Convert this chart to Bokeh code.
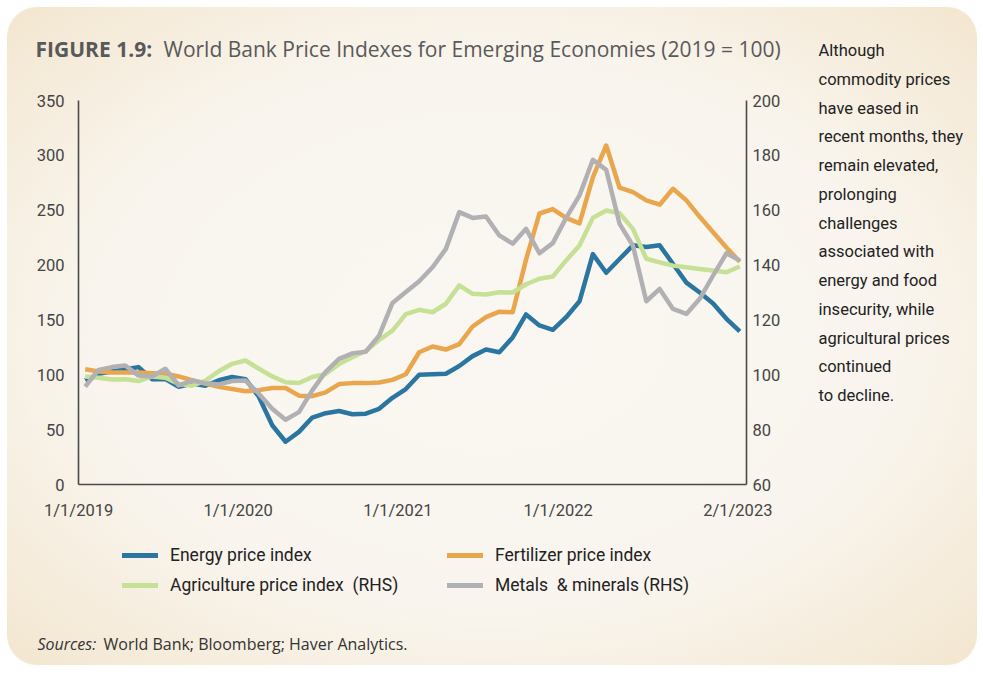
import math
import pandas as pd
from bokeh.plotting import figure
from bokeh.layouts import row, column
from bokeh.models import Range1d, LinearAxis, FixedTicker, Label, Legend, LegendItem, ColumnDataSource
from bokeh.embed import file_html
from bokeh.resources import INLINE

# ---------------- data ----------------
months = pd.date_range("2019-01-01", "2023-02-01", freq="MS").strftime("%Y-%m").tolist()

energy = [95, 101, 103, 105, 107, 96, 96, 89, 92, 90,
          95, 98, 96, 80, 54, 39, 48, 61, 65, 67,
          64, 64.5, 69, 79, 87, 100, 100.5, 101, 108, 117,
          123, 120.5, 134, 155, 145, 141, 152.5, 167, 210, 193,
          205.5, 218, 216.5, 218, 201, 184, 175, 165, 151, 139.5]

fertilizer = [105, 103, 102, 102, 102, 101.5, 101, 98.5, 95, 92,
              89, 87, 85, 86, 88, 88, 81, 80.5, 84, 91.5,
              92.4, 92.4, 93, 95.4, 100.5, 120.5, 125.8, 123, 128, 144,
              152.5, 157.5, 157, 205, 247, 251, 243, 238, 280, 309,
              270.5, 266.5, 259, 255, 269.5, 259, 244, 230, 216, 203]

agriculture = [99.4, 98.9, 98.3, 98.4, 97.7, 99.4, 98.9, 96.7, 96, 97.9,
               101.3, 104, 105.2, 102.2, 99.4, 97.3, 97, 99.2, 100.3, 103.9,
               106.4, 108.7, 112.7, 116.1, 122.1, 123.7, 122.8, 125.9, 132.6, 129.5,
               129.3, 130.1, 130, 133, 135, 135.8, 141.7, 147.1, 157.2, 159.9,
               158.9, 153.2, 142.3, 141, 139.8, 139.2, 138.6, 138, 137.4, 139.5]

metals = [95.7, 101.8, 102.8, 103.4, 99.7, 99.4, 102.2, 96.1, 97.9, 96.9,
          96.5, 97.7, 97.9, 93.1, 87.6, 83.6, 86.4, 94.3, 101.1, 105.8,
          107.8, 108.4, 114.3, 126.2, 130.2, 134.1, 139.2, 145.9, 159.3, 157.2,
          157.7, 150.8, 147.8, 153.2, 144.3, 148, 157.2, 165.4, 178.4, 174.7,
          155, 147.1, 126.8, 131.3, 124, 122.2, 127.7, 136.2, 144.3, 141.7]

left_ticks = [0, 50, 100, 150, 200, 250, 300, 350]
right_ticks = [60, 80, 100, 120, 140, 160, 180, 200]
x_tick_labels = ["1/1/2019", "1/1/2020", "1/1/2021", "1/1/2022", "2/1/2023"]
x_tick_pos = [-0.49, 11.45, 23.4, 35.4, 48.85]

series_names = ["Energy price index", "Fertilizer price index",
                "Agriculture price index  (RHS)", "Metals  & minerals (RHS)"]

title_bold = "FIGURE 1.9:"
title_rest = "World Bank Price Indexes for Emerging Economies (2019 = 100)"
sources_lead = "Sources:"
sources_rest = "World Bank; Bloomberg; Haver Analytics."

side_text = ["Although", "commodity prices", "have eased in", "recent months, they",
             "remain elevated,", "prolonging", "challenges", "associated with",
             "energy and food", "insecurity, while", "agricultural prices",
             "continued", "to decline."]

# ---------------- styling ----------------
BLUE = "#2b76a1"
ORANGE = "#e9a64c"
GREEN = "#c6e095"
GRAY = "#b1b1b3"
AXIS = "#4a4a4a"
COND = "Roboto"
GEO = "Open Sans"
LW = 4.5

LEFT_W = 790          # left column width (panel x 7..797)
SIDE_W = 180          # side text column (797..977)
TITLE_H = 73          # 7..80
MAIN_H = 450          # 80..530
BOTTOM_H = 135        # 530..665


def blank_fig(w, h):
    f = figure(width=w, height=h, x_range=Range1d(0, w), y_range=Range1d(h, 0),
               x_axis_location=None, y_axis_location=None,
               output_backend="svg", toolbar_location=None,
               min_border=0, min_border_left=0, min_border_right=0,
               min_border_top=0, min_border_bottom=0)
    f.grid.visible = False
    f.outline_line_color = None
    f.background_fill_alpha = 0
    f.border_fill_alpha = 0
    return f


def lab(fig, text, x, y, font, size, color, style="normal"):
    fig.add_layout(Label(x=x, y=y, text=text, text_font=font, text_font_size=size,
                         text_color=color, text_font_style=style,
                         text_baseline="middle", text_align="left"))


# ---------------- title ----------------
title_fig = blank_fig(LEFT_W, TITLE_H)
lab(title_fig, title_bold, 28, 41, GEO, "21px", "#58595b", "bold")
lab(title_fig, title_rest, 156, 41, GEO, "21px", "#58595b")

# ---------------- main chart ----------------
src = ColumnDataSource(dict(x=list(range(len(months))), month=months,
                            energy=energy, fertilizer=fertilizer,
                            agriculture=agriculture, metals=metals))

p = figure(width=LEFT_W, height=MAIN_H, output_backend="svg", toolbar_location=None,
           x_range=Range1d(-0.5, len(months) - 0.5), y_range=Range1d(0, 350),
           min_border_left=71, min_border_top=20,
           min_border_right=LEFT_W - 71 - 668, min_border_bottom=MAIN_H - 20 - 384)
p.extra_y_ranges = {"rhs": Range1d(60, 200)}
p.background_fill_alpha = 0
p.border_fill_alpha = 0
p.outline_line_color = None
p.xgrid.visible = False
p.ygrid.visible = False

r_e = p.line("x", "energy", source=src, color=BLUE, line_width=LW, line_join="round")
r_f = p.line("x", "fertilizer", source=src, color=ORANGE, line_width=LW, line_join="round")
r_a = p.line("x", "agriculture", source=src, color=GREEN, line_width=LW, line_join="round", y_range_name="rhs")
r_m = p.line("x", "metals", source=src, color=GRAY, line_width=LW, line_join="round", y_range_name="rhs")

rax = LinearAxis(y_range_name="rhs")
p.add_layout(rax, "right")

for ax in [p.xaxis[0], p.yaxis[0], rax]:
    ax.axis_line_color = AXIS
    ax.axis_line_width = 1.6
    ax.major_tick_out = 0
    ax.major_tick_in = 0
    ax.minor_tick_out = 0
    ax.minor_tick_in = 0
    ax.major_label_text_font = COND
    ax.major_label_text_font_size = "16.5px"
    ax.major_label_text_color = "#444444"

p.yaxis[0].ticker = FixedTicker(ticks=left_ticks)
p.yaxis[0].major_label_standoff = 14
rax.ticker = FixedTicker(ticks=right_ticks)
rax.major_label_standoff = 6
p.xaxis[0].ticker = FixedTicker(ticks=x_tick_pos)
p.xaxis[0].major_label_overrides = {t: l for t, l in zip(x_tick_pos, x_tick_labels)}
p.xaxis[0].major_label_standoff = 16

# ---------------- legend + sources ----------------
bottom_fig = blank_fig(LEFT_W, BOTTOM_H)
colors = [BLUE, ORANGE, GREEN, GRAY]
# legend proxies: NaN data so nothing is drawn on the canvas itself
swatches = [bottom_fig.line(x=[math.nan], y=[math.nan], color=c, line_width=5, line_cap="round")
            for c in colors]


def make_legend(idx, vx):
    return Legend(items=[LegendItem(label=series_names[i], renderers=[swatches[i]]) for i in idx],
                  location=(vx, 68), orientation="vertical",
                  padding=0, spacing=6, glyph_width=36, glyph_height=24,
                  label_height=24, label_standoff=12,
                  label_text_font=COND, label_text_font_size="17.5px",
                  label_text_color="#222222",
                  background_fill_alpha=0, border_line_alpha=0)


bottom_fig.add_layout(make_legend([0, 2], 115))
bottom_fig.add_layout(make_legend([1, 3], 440))

lab(bottom_fig, sources_lead, 30, 113, GEO, "16px", "#333333", "italic")
lab(bottom_fig, sources_rest, 96, 113, GEO, "16px", "#333333")

# ---------------- side text ----------------
side_fig = blank_fig(SIDE_W, TITLE_H + MAIN_H + BOTTOM_H)
for i, t in enumerate(side_text):
    lab(side_fig, t, 21, 43 + i * 28.75, COND, "16.5px", "#222222")

root = row(column(title_fig, column(p), bottom_fig), side_fig)
root.styles = {"margin": "7px 0 0 7px", "border-radius": "30px",
               "background": "radial-gradient(ellipse 75% 75% at 50% 50%, #faf7f2 0%, #f9f5ee 55%, #f2e4cb 100%)"}

open("out.html", "w").write(file_html(root, INLINE))
